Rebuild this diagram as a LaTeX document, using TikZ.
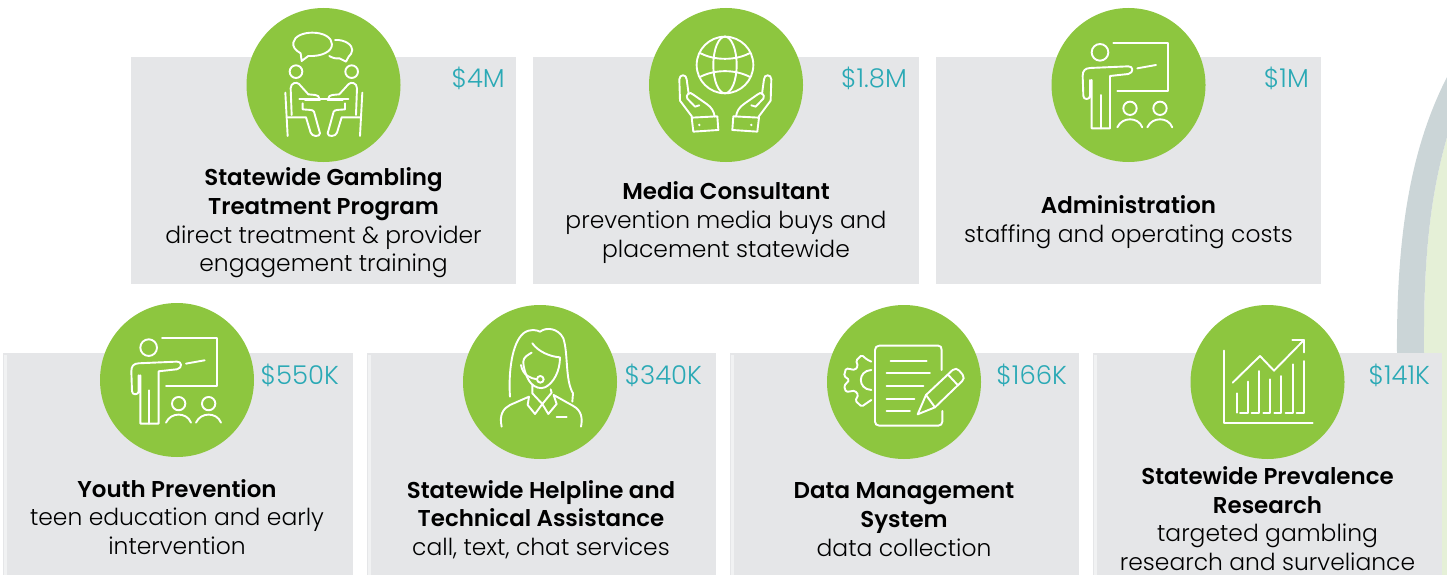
\documentclass[tikz,border=0pt]{standalone}
\usepackage{fontspec}
\setmainfont[BoldFont={Poppins SemiBold}]{Poppins Light}
\definecolor{cardgray}{HTML}{E5E6E8}
\definecolor{cardstrip}{HTML}{F1F2F3}
\definecolor{leaf}{HTML}{8DC63F}
\definecolor{teal}{HTML}{2AA9B5}
\definecolor{arcgray}{HTML}{CBD5D7}
\definecolor{arcgreen}{HTML}{E5F0D7}
\tikzset{
 card/.style={fill=cardgray,draw=none},
 badge/.style={circle,fill=leaf,draw=none,minimum size=154bp,inner sep=0pt},
 ico/.style={draw=white,line width=1.9bp,line cap=round,line join=round,fill=none},
 price/.style={text=teal,font=\fontsize{26}{30}\selectfont,anchor=east,inner sep=0pt},
 body/.style={text=black,align=center,inner sep=0pt,font=\fontsize{23.5}{28.8}\selectfont},
}
\newcommand{\hd}[1]{{\fontsize{23}{28.8}\selectfont\bfseries #1}}
\newcommand{\teacher}{%
 \draw[ico] (180,157) circle (25);
 \draw[ico] (220,128) -- (385,128) -- (385,272) -- (232,272);
 \draw[ico] (292,205) -- (348,195);
 \draw[ico] (150,240) -- (150,288) .. controls (150,300) and (130,300) .. (130,288) -- (128,228) .. controls (128,212) and (135,205) .. (150,204) -- (265,199) .. controls (280,198) and (282,218) .. (265,222) -- (210,228) -- (210,385) -- (155,385) -- (155,240);
 \draw[ico] (182,285) -- (182,385);
 \draw[ico] (270,325) circle (20);
 \draw[ico] (360,325) circle (20);
 \draw[ico] (232,382) .. controls (240,365) and (255,358) .. (270,358) .. controls (285,358) and (300,365) .. (307,382);
 \draw[ico] (322,382) .. controls (330,365) and (345,358) .. (360,358) .. controls (375,358) and (390,365) .. (397,382);
}
\begin{document}
\begin{tikzpicture}[x=1bp,y=-1bp]
\useasboundingbox (0,0) rectangle (1447,575);
% arc in the background
\fill[arcgreen] (1447,137) .. controls (1432,190) and (1423,250) .. (1424,355) -- (1424,575) -- (1447,575) -- cycle;
\fill[arcgray] (1447,77) .. controls (1415,140) and (1396,220) .. (1397,355) -- (1424,355) .. controls (1423,250) and (1432,190) .. (1447,137) -- cycle;
% cards
\fill[card] (131,57) rectangle (516,284);
\fill[card] (533,57) rectangle (919,284);
\fill[card] (936,57) rectangle (1321,284);
\fill[card] (3,353) rectangle (353,575);
\fill[card] (367,353) rectangle (716,575);
\fill[card] (730,353) rectangle (1079,575);
\fill[card] (1093,353) rectangle (1442,575);
\foreach \sx in {4,368,731,1094} \fill[cardstrip] (\sx,355) rectangle (\sx+2.5,575);
% badges
\node[badge] (b1) at (323.5,85) {};
\node[badge] (b2) at (726,85) {};
\node[badge] (b3) at (1128.5,85) {};
\node[badge] (b4) at (177,380) {};
\node[badge] (b5) at (540,382) {};
\node[badge] (b6) at (904,382) {};
\node[badge] (b7) at (1267.5,382) {};
% icon 1: meeting
\begin{scope}[shift={(240,0)},x=0.3333bp,y=-0.3333bp]
 \draw[ico] (185,183) -- (182,160) .. controls (165,150) and (158,140) .. (160,128) .. controls (163,108) and (190,98) .. (217,98) .. controls (250,98) and (276,112) .. (276,133) .. controls (276,155) and (245,170) .. (205,168) -- cycle;
 \draw[ico] (285,120) .. controls (315,118) and (337,135) .. (337,150) .. controls (337,160) and (330,165) .. (326,170) -- (318,185) -- (298,175) .. controls (285,177) and (275,172) .. (268,168);
 \foreach \m/\s in {0/1,503/-1}{
 \begin{scope}[xshift=\m*0.3333bp,xscale=\s]
  \draw[ico] (168,215) circle (19);
  \draw[ico] (136,278) -- (143,408);
  \draw[ico] (143,352) -- (198,352) -- (212,398) .. controls (215,410) and (240,412) .. (240,400) -- (222,335) .. controls (220,328) and (200,330) .. (188,328) -- (188,310);
  \draw[ico] (155,345) -- (152,265) .. controls (152,248) and (170,245) .. (177,252) -- (205,283) -- (226,285) .. controls (234,286) and (238,290) .. (238,296);
  \draw[ico] (178,296) -- (251,296);
  \draw[ico] (195,300) -- (240,300);
 \end{scope}}
\end{scope}
% icon 2: globe in hands
\begin{scope}[shift={(640,0)},x=0.3333bp,y=-0.3333bp]
 \draw[ico] (255,195) circle (85);
 \draw[ico] (255,195) ellipse (35 and 85);
 \draw[ico] (182,160) .. controls (225,182) and (285,182) .. (328,160);
 \draw[ico] (182,230) .. controls (225,208) and (285,208) .. (328,230);
 \foreach \m/\s in {0/1,512/-1}{
 \begin{scope}[xshift=\m*0.3333bp,xscale=\s]
  \draw[ico] (156,350) -- (120,302) -- (118,238) .. controls (118,222) and (140,222) .. (140,238) -- (146,282);
  \draw[ico] (178,316) -- (165,320) -- (142,296) .. controls (135,285) and (150,272) .. (160,284) -- (200,312) .. controls (215,322) and (222,335) .. (224,350);
  \draw[ico] (155,353) -- (232,349) -- (235,390) -- (160,395) -- cycle;
  \fill[white] (178,375) circle (4);
 \end{scope}}
\end{scope}
% icon 3 and 4: teacher
\begin{scope}[shift={(1040,0)},x=0.3333bp,y=-0.3333bp]\teacher\end{scope}
\begin{scope}[shift={(88.67,295.3)},x=0.3333bp,y=-0.3333bp]\teacher\end{scope}
% icon 5: helpline
\begin{scope}[shift={(455,300)},x=0.3333bp,y=-0.3333bp]
 \draw[ico] (165,290) .. controls (160,220) and (170,130) .. (205,100) .. controls (225,85) and (245,90) .. (255,95) .. controls (275,80) and (310,85) .. (325,115) .. controls (340,160) and (330,240) .. (354,280) -- (352,305);
 \draw[ico] (232,130) .. controls (250,155) and (285,170) .. (315,172) .. controls (315,215) and (295,250) .. (270,262) .. controls (255,268) and (240,262) .. (228,250) .. controls (215,235) and (205,205) .. (205,185) .. controls (205,172) and (218,165) .. (230,158);
 \draw[ico] (198,195) .. controls (203,225) and (225,235) .. (246,238);
 \draw[ico] (256,238) circle (10);
 \draw[ico] (232,255) -- (232,280) -- (262,312) -- (290,278) -- (287,268);
 \draw[ico] (140,380) .. controls (132,345) and (145,325) .. (165,315) -- (222,290) -- (218,315) -- (240,342) -- (262,312) -- (280,342) -- (305,312) -- (296,285) -- (355,318) .. controls (380,332) and (383,355) .. (378,380);
 \draw[ico] (305,352) -- (335,352);
\end{scope}
% icon 6: data management
\begin{scope}[shift={(820,300)},x=0.3333bp,y=-0.3333bp]
 \draw[ico] (365,210) -- (365,150) .. controls (365,142) and (362,137) .. (355,137) -- (178,137) .. controls (170,137) and (165,142) .. (165,150) -- (165,365) .. controls (165,372) and (170,377) .. (178,377) -- (355,377) .. controls (362,377) and (367,372) .. (367,365) -- (367,333);
 \foreach \xa/\xb/\yy in {212/320/183,200/330/220,200/310/258,200/283/296,200/270/334}
  \draw[ico] (\xa,\yy) -- (\xb,\yy);
 \draw[ico] (293,343) -- (318,285) -- (398,210) .. controls (405,205) and (412,205) .. (418,212) -- (428,224) .. controls (433,232) and (432,238) .. (426,244) -- (345,322) -- cycle;
 \draw[ico] (318,285) -- (345,322);
 \draw[ico] (384,224) -- (414,256);
 \draw[ico,rounded corners=1.5bp] (154,185) -- (140,178) -- (125,165) -- (108,182) -- (114,198) -- (105,210) -- (78,205) -- (72,228) -- (88,240) -- (72,258) -- (78,276) -- (105,272) -- (115,285) -- (106,302) -- (125,320) -- (142,308) -- (154,300);
 \draw[ico] (154,210) .. controls (112,212) and (112,268) .. (154,270);
\end{scope}
% icon 7: chart
\begin{scope}[shift={(1180,300)},x=0.3333bp,y=-0.3333bp]
 \draw[ico] (133,152) -- (133,368) -- (398,368);
 \draw[ico] (170,280) -- (170,338);
 \draw[ico] (180,338) -- (203,338) -- (203,245);
 \draw[ico] (215,338) -- (236,338) -- (236,213);
 \draw[ico] (250,338) -- (269,338) -- (269,238);
 \draw[ico] (283,338) -- (303,338) -- (303,228);
 \draw[ico] (317,338) -- (338,338) -- (338,193);
 \draw[ico] (350,338) -- (372,338) -- (372,183);
 \draw[ico] (158,248) -- (240,168) -- (282,212) -- (372,120);
 \draw[ico] (337,120) -- (372,120) -- (372,157);
\end{scope}
% prices
\node[price] (p1) at (505,78) {\$4M};
\node[price] (p2) at (907,78) {\$1.8M};
\node[price] (p3) at (1309,78) {\$1M};
\node[price] (p4) at (339,375) {\$550K};
\node[price] (p5) at (702,375) {\$340K};
\node[price] (p6) at (1067,375) {\$166K};
\node[price] (p7) at (1430,375) {\$141K};
% text
\node[body] (t1) at (323.5,223) {\hd{Statewide Gambling}\\\hd{Treatment Program}\\direct treatment \& provider\\engagement training};
\node[body] (t2) at (726,222.5) {\hd{Media Consultant}\\prevention media buys and\\placement statewide};
\node[body] (t3) at (1128.5,222.5) {\hd{Administration}\\staffing and operating costs};
\node[body] (t4) at (177,517) {\hd{Youth Prevention}\\teen education and early\\intervention};
\node[body] (t5) at (541,519.5) {\hd{Statewide Helpline and}\\\hd{Technical Assistance}\\call, text, chat services};
\node[body] (t6) at (904,519.5) {\hd{Data Management}\\\hd{System}\\data collection};
\node[body] (t7) at (1267.5,518.5) {\hd{Statewide Prevalence}\\\hd{Research}\\targeted gambling\\research and surveliance};
\end{tikzpicture}
\end{document}
